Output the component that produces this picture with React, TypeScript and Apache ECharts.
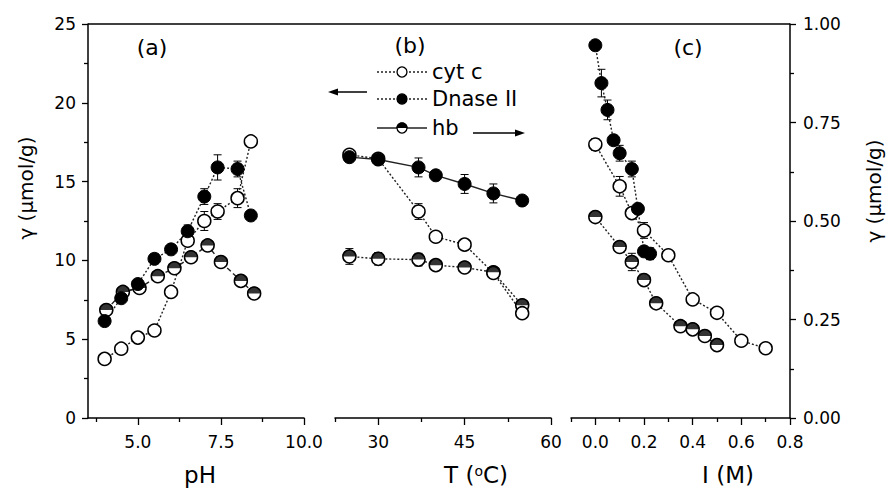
import React, { useEffect, useRef } from 'react';
import * as echarts from 'echarts';

// ---------- Panel (a): pH ----------
const pHCyt = [4.0, 4.5, 5.0, 5.5, 6.0, 6.5, 7.0, 7.4, 8.0, 8.4];
const cytA = [3.75, 4.4, 5.1, 5.55, 8.0, 11.25, 12.5, 13.1, 13.95, 17.55];
const errCytA = [0, 0, 0, 0, 0, 0, 0.6, 0.5, 0.6, 0];
const pHDn = [4.0, 4.5, 5.0, 5.5, 6.0, 6.5, 7.0, 7.4, 8.0, 8.4];
const dnA = [6.15, 7.6, 8.5, 10.1, 10.7, 11.85, 14.05, 15.9, 15.8, 12.85];
const errDnA = [0, 0, 0, 0.3, 0, 0.4, 0.5, 0.8, 0.5, 0];
const pHHb = [4.05, 4.55, 5.05, 5.6, 6.1, 6.6, 7.1, 7.5, 8.1, 8.5];
const hbA = [6.85, 8.0, 8.25, 9.0, 9.5, 10.2, 10.95, 9.9, 8.7, 7.9];
const errHbA = [0, 0, 0, 0, 0, 0, 0, 0, 0, 0];

// ---------- Panel (b): T ----------
const tempB = [25, 30, 37, 40, 45, 50, 55];
const cytB = [16.7, 16.45, 13.1, 11.5, 11.0, 9.2, 6.65];
const errCytB = [0, 0, 0.5, 0, 0.3, 0, 0];
const dnB = [16.55, 16.4, 15.9, 15.4, 14.85, 14.25, 13.8];
const errDnB = [0, 0, 0.6, 0, 0.6, 0.6, 0];
const hbB = [10.25, 10.1, 10.05, 9.7, 9.55, 9.25, 7.15];
const errHbB = [0.5, 0.4, 0.4, 0, 0, 0, 0];

// ---------- Panel (c): I ----------
const iDn = [0.0, 0.025, 0.05, 0.075, 0.1, 0.15, 0.175, 0.2, 0.225];
const dnC = [0.946, 0.85, 0.782, 0.705, 0.672, 0.632, 0.531, 0.423, 0.417];
const errDnC = [0, 0.035, 0.025, 0, 0.02, 0.02, 0, 0, 0.015];
const iCyt = [0.0, 0.1, 0.15, 0.2, 0.3, 0.4, 0.5, 0.6, 0.7];
const cytC = [0.694, 0.588, 0.52, 0.476, 0.413, 0.301, 0.267, 0.196, 0.177];
const errCytC = [0.015, 0.025, 0, 0.02, 0, 0, 0, 0, 0];
const iHb = [0.0, 0.1, 0.15, 0.2, 0.25, 0.35, 0.4, 0.45, 0.5];
const hbC = [0.51, 0.434, 0.396, 0.35, 0.291, 0.233, 0.225, 0.208, 0.185];
const errHbC = [0, 0, 0.022, 0.012, 0, 0, 0, 0, 0];

// ---------- Ticks ----------
const ticksA = [5, 7.5, 10];
const minorA = [3.75, 6.25, 8.75];
const ticksB = [30, 45, 60];
const minorB = [22.5, 37.5, 52.5];
const ticksC = [0, 0.2, 0.4, 0.6, 0.8];
const minorC = [-0.1, 0.1, 0.3, 0.5, 0.7];

const legendNames = ['cyt c', 'Dnase II', 'hb'];

const FONT = 'DejaVu Sans';
const DOT = [2, 2];
const DASH = [5, 3];
const LINE_C = '#222';
const HALF = 'path://M0,10 A10,10 0 0 1 20,10 Z';
const SYM = 13;

const GRID_TOP = 24;
const GRID_H = 394;
const GA = { left: 88, width: 216 };
const GB = { left: 335, width: 216 };
const GC = { left: 571, width: 219 };

const pts = (xs: number[], ys: number[]) => xs.map((x, i) => [x, ys[i]]);
const errPts = (xs: number[], ys: number[], es: number[]) =>
  xs.map((x, i) => [x, ys[i], es[i]]).filter((d) => d[2] > 0);

function lineSeries(name: string, xi: number, yi: number, xs: number[], ys: number[], kind: 'open' | 'filled' | 'half', lt: any) {
  return {
    type: 'line',
    name,
    xAxisIndex: xi,
    yAxisIndex: yi,
    data: pts(xs, ys),
    symbol: 'circle',
    symbolSize: SYM,
    showAllSymbol: true,
    itemStyle: kind === 'filled'
      ? { color: '#000', borderColor: '#000', borderWidth: 1 }
      : { color: '#fff', borderColor: '#000', borderWidth: 1.5 },
    lineStyle: { color: LINE_C, width: 1.4, type: lt },
    z: 3,
    silent: true,
  };
}

function halfSeries(name: string, xi: number, yi: number, xs: number[], ys: number[]) {
  return {
    type: 'scatter',
    name,
    xAxisIndex: xi,
    yAxisIndex: yi,
    data: pts(xs, ys),
    symbol: HALF,
    symbolSize: [14, 7],
    symbolOffset: [0, -3.5],
    itemStyle: { color: '#000' },
    z: 4,
    silent: true,
  };
}

function errSeries(xi: number, yi: number, data: number[][]) {
  return {
    type: 'custom',
    xAxisIndex: xi,
    yAxisIndex: yi,
    data,
    encode: { x: 0, y: 1 },
    z: 2,
    silent: true,
    renderItem: (_params: any, api: any) => {
      const x = api.value(0);
      const y = api.value(1);
      const e = api.value(2);
      const t = api.coord([x, y + e]);
      const b = api.coord([x, y - e]);
      const hw = 4;
      const st = { stroke: '#000', lineWidth: 1 };
      return {
        type: 'group',
        children: [
          { type: 'line', shape: { x1: t[0], y1: t[1], x2: b[0], y2: b[1] }, style: st },
          { type: 'line', shape: { x1: t[0] - hw, y1: t[1], x2: t[0] + hw, y2: t[1] }, style: st },
          { type: 'line', shape: { x1: b[0] - hw, y1: b[1], x2: b[0] + hw, y2: b[1] }, style: st },
        ],
      };
    },
  };
}

const axisLineStyle = { show: true, onZero: false, lineStyle: { color: '#000', width: 1.5 } };
const labelStyle = { color: '#000', fontSize: 17, fontFamily: FONT };

function xMajor(gi: number, min: number, max: number, ticks: number[], dec: number) {
  return {
    type: 'value', gridIndex: gi, position: 'bottom', min, max,
    axisLine: axisLineStyle,
    axisTick: { show: true, length: 7, lineStyle: { color: '#000', width: 1.3 }, customValues: ticks },
    axisLabel: { ...labelStyle, margin: 15, customValues: ticks, formatter: (v: number) => v.toFixed(dec) },
    splitLine: { show: false },
  };
}
function xMinor(gi: number, min: number, max: number, ticks: number[]) {
  return {
    type: 'value', gridIndex: gi, position: 'bottom', min, max,
    axisLine: { show: false, onZero: false },
    axisTick: { show: true, length: 4, lineStyle: { color: '#000', width: 1.3 }, customValues: ticks },
    axisLabel: { show: false },
    splitLine: { show: false },
  };
}

export default function App() {
  const ref = useRef<HTMLDivElement>(null);
  useEffect(() => {
    if (!ref.current) return;
    const chart = echarts.init(ref.current, undefined, { renderer: 'svg' });
    const rowY = [72, 99, 128];
    const lx1 = 377, lx2 = 427, lm = 402, tx = 432;
    const legendGraphics: any[] = [];
    legendNames.forEach((n, i) => {
      const y = rowY[i];
      legendGraphics.push({
        type: 'line', shape: { x1: lx1, y1: y, x2: lx2, y2: y },
        style: { stroke: LINE_C, lineWidth: 1.3, lineDash: i === 2 ? null : DOT },
      });
      legendGraphics.push({
        type: 'circle', shape: { cx: lm, cy: y, r: 5 },
        style: { fill: i === 1 ? '#000' : '#fff', stroke: '#000', lineWidth: 1.3 },
      });
      if (i === 2) {
        legendGraphics.push({
          type: 'polygon',
          shape: {
            points: [0, 1, 2, 3, 4, 5, 6, 7, 8, 9, 10, 11, 12].map((k) => {
              const a = Math.PI + (Math.PI * k) / 12;
              return [lm + 5.6 * Math.cos(a), y + 5.6 * Math.sin(a)];
            }),
          },
          style: { fill: '#000' },
        });
      }
      legendGraphics.push({
        type: 'text', x: tx, y,
        style: { text: n, fontSize: 21, fontFamily: FONT, fill: '#000', textVerticalAlign: 'middle', textAlign: 'left' },
      });
    });

    const yTick = { show: true, length: 6, lineStyle: { color: '#000', width: 1.3 } };
    const yMinor = { show: true, splitNumber: 2, length: 4, lineStyle: { color: '#000', width: 1.3 } };

    const option: any = {
      animation: false,
      backgroundColor: '#fff',
      textStyle: { fontFamily: FONT },
      grid: [
        { left: GA.left, top: GRID_TOP, width: GA.width, height: GRID_H },
        { left: GB.left, top: GRID_TOP, width: GB.width, height: GRID_H },
        { left: GC.left, top: GRID_TOP, width: GC.width, height: GRID_H },
      ],
      xAxis: [
        xMajor(0, 3.5, 10, ticksA, 1),
        xMinor(0, 3.5, 10, minorA),
        xMajor(1, 22.5, 60, ticksB, 0),
        xMinor(1, 22.5, 60, minorB),
        xMajor(2, -0.1, 0.8, ticksC, 1),
        xMinor(2, -0.1, 0.8, minorC),
      ],
      yAxis: [
        {
          type: 'value', gridIndex: 0, position: 'left', min: 0, max: 25, interval: 5,
          axisLine: axisLineStyle,
          axisTick: yTick,
          minorTick: yMinor,
          axisLabel: { ...labelStyle, margin: 12 },
          splitLine: { show: false },
          minorSplitLine: { show: false },
        },
        { type: 'value', gridIndex: 1, min: 0, max: 25, show: false, axisLine: { show: false, onZero: false } },
        {
          type: 'value', gridIndex: 2, position: 'right', min: 0, max: 1, interval: 0.25,
          axisLine: axisLineStyle,
          axisTick: yTick,
          minorTick: yMinor,
          axisLabel: { ...labelStyle, margin: 13, formatter: (v: number) => v.toFixed(2) },
          splitLine: { show: false },
          minorSplitLine: { show: false },
        },
      ],
      series: [
        // panel a
        errSeries(0, 0, errPts(pHCyt, cytA, errCytA)),
        errSeries(0, 0, errPts(pHDn, dnA, errDnA)),
        errSeries(0, 0, errPts(pHHb, hbA, errHbA)),
        lineSeries('hb', 0, 0, pHHb, hbA, 'half', DASH),
        halfSeries('hb', 0, 0, pHHb, hbA),
        lineSeries('cyt c', 0, 0, pHCyt, cytA, 'open', DOT),
        lineSeries('Dnase II', 0, 0, pHDn, dnA, 'filled', DOT),
        // panel b
        errSeries(2, 1, errPts(tempB, cytB, errCytB)),
        errSeries(2, 1, errPts(tempB, dnB, errDnB)),
        errSeries(2, 1, errPts(tempB, hbB, errHbB)),
        lineSeries('hb', 2, 1, tempB, hbB, 'half', DOT),
        halfSeries('hb', 2, 1, tempB, hbB),
        lineSeries('cyt c', 2, 1, tempB, cytB, 'open', DOT),
        lineSeries('Dnase II', 2, 1, tempB, dnB, 'filled', 'solid'),
        // panel c
        errSeries(4, 2, errPts(iCyt, cytC, errCytC)),
        errSeries(4, 2, errPts(iDn, dnC, errDnC)),
        errSeries(4, 2, errPts(iHb, hbC, errHbC)),
        lineSeries('hb', 4, 2, iHb, hbC, 'half', DOT),
        halfSeries('hb', 4, 2, iHb, hbC),
        lineSeries('cyt c', 4, 2, iCyt, cytC, 'open', DOT),
        lineSeries('Dnase II', 4, 2, iDn, dnC, 'filled', DOT),
      ],
      graphic: [
        // top frame line
        { type: 'line', shape: { x1: GA.left, y1: GRID_TOP, x2: GC.left + GC.width, y2: GRID_TOP }, style: { stroke: '#000', lineWidth: 1.5 }, z: 10 },
        // panel labels
        { type: 'text', x: 152, y: 47, style: { text: '(a)', fontSize: 22, fontFamily: FONT, fill: '#000', textAlign: 'center', textVerticalAlign: 'middle' } },
        { type: 'text', x: 410, y: 45, style: { text: '(b)', fontSize: 22, fontFamily: FONT, fill: '#000', textAlign: 'center', textVerticalAlign: 'middle' } },
        { type: 'text', x: 688, y: 47, style: { text: '(c)', fontSize: 22, fontFamily: FONT, fill: '#000', textAlign: 'center', textVerticalAlign: 'middle' } },
        // axis names
        { type: 'text', x: 200, y: 475, style: { text: 'pH', fontSize: 23, fontFamily: FONT, fill: '#000', textAlign: 'center', textVerticalAlign: 'middle' } },
        {
          type: 'text', x: 476, y: 475,
          style: {
            text: 'T ({s|o}C)', fontSize: 23, fontFamily: FONT, fill: '#000', textAlign: 'center', textVerticalAlign: 'middle',
            rich: { s: { fontSize: 14, fontFamily: FONT, verticalAlign: 'top', lineHeight: 14 } },
          },
        },
        { type: 'text', x: 728, y: 475, style: { text: 'I (M)', fontSize: 23, fontFamily: FONT, fill: '#000', textAlign: 'center', textVerticalAlign: 'middle' } },
        { type: 'text', x: 26, y: 188, rotation: Math.PI / 2, style: { text: 'γ (μmol/g)', fontSize: 20, fontFamily: FONT, fill: '#000', textAlign: 'center', textVerticalAlign: 'middle' } },
        { type: 'text', x: 874, y: 191, rotation: Math.PI / 2, style: { text: 'γ (μmol/g)', fontSize: 20, fontFamily: FONT, fill: '#000', textAlign: 'center', textVerticalAlign: 'middle' } },
        // arrows
        { type: 'line', shape: { x1: 334, y1: 92, x2: 367, y2: 92 }, style: { stroke: '#000', lineWidth: 1.4 } },
        { type: 'polygon', shape: { points: [[328, 92], [338, 88.5], [338, 95.5]] }, style: { fill: '#000' } },
        { type: 'line', shape: { x1: 473, y1: 133, x2: 519, y2: 133 }, style: { stroke: '#000', lineWidth: 1.4 } },
        { type: 'polygon', shape: { points: [[525, 133], [515, 129.5], [515, 136.5]] }, style: { fill: '#000' } },
        ...legendGraphics,
      ],
    };
    chart.setOption(option);
    return () => chart.dispose();
  }, []);
  return <div ref={ref} style={{ position: 'fixed', left: 0, top: 0, width: 887, height: 490, background: '#fff' }} />;
}
